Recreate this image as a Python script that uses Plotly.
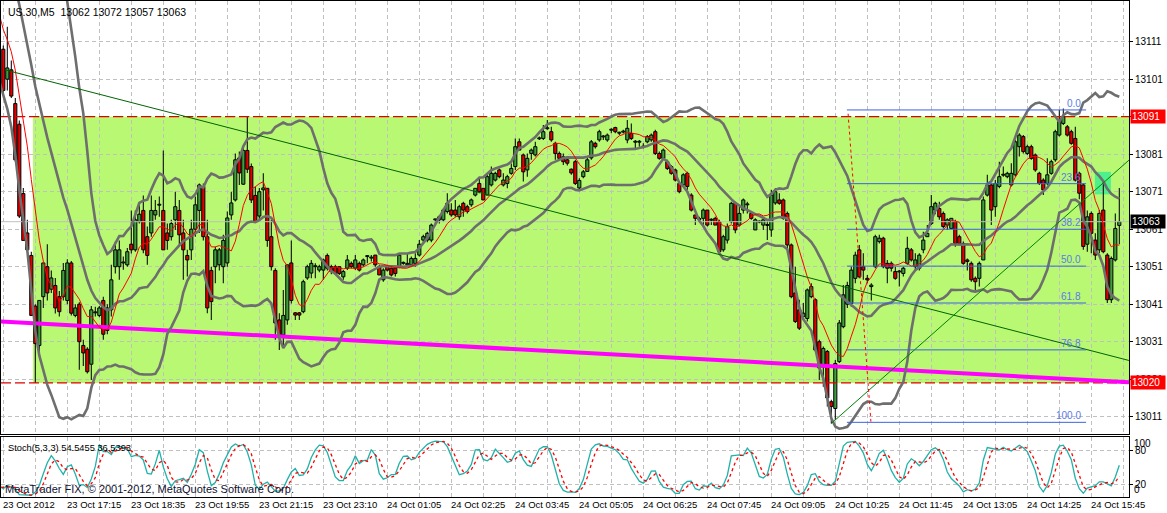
import numpy as np
import pandas as pd
import plotly.graph_objects as go

# ---------------- data (5-minute bars, index 0 = first visible bar) ----------------
bar_open = [
 13109, 13101, 13103.5, 13094.5, 13089, 13070.5, 13060, 13054, 13040.5, 13030,
 13043, 13051, 13045, 13046, 13043, 13043, 13042, 13052, 13038, 13041,
 13030, 13029, 13025, 13038.7, 13038, 13042, 13034, 13039.5, 13051, 13051,
 13052, 13051.5, 13057, 13055.5, 13063, 13066, 13059, 13060, 13064.8, 13067.4,
 13066, 13060, 13059, 13063.5, 13066, 13060, 13054, 13055.5, 13061, 13066,
 13072.4, 13059, 13050, 13051, 13051.5, 13051, 13052, 13064.8, 13068.8, 13080,
 13073, 13082, 13077.7, 13070, 13064.5, 13071.5, 13071.9, 13059, 13050, 13036.8,
 13032.8, 13036.8, 13052, 13038.7, 13038.7, 13039, 13048, 13049.3, 13051, 13050.1,
 13050.1, 13054, 13051, 13051, 13051, 13048.3, 13050.6, 13051.9, 13050.6, 13051.9,
 13051.5, 13053.7, 13053.3, 13054.1, 13051, 13047.5, 13051, 13050.6, 13050.6, 13051,
 13051.9, 13051.5, 13051.5, 13051.9, 13054.1, 13058.1, 13058.1, 13058.1, 13063.5, 13063.5,
 13063.5, 13065.7, 13066.1, 13066.1, 13064.3, 13067.9, 13067, 13067.5, 13070.1, 13073.2,
 13071.9, 13070.1, 13072.8, 13074.1, 13076.8, 13072.8, 13073.2, 13075.9, 13077.7, 13084.3,
 13080.8, 13076.8, 13081.2, 13080.8, 13085.1, 13085.2, 13087.8, 13087, 13083.9, 13081.2,
 13080.3, 13079.5, 13077, 13079, 13072, 13075, 13076.4, 13080, 13083.9, 13084.8,
 13085.6, 13084.8, 13087.4, 13088.1, 13086.6, 13086.9, 13084.8, 13086.5, 13084.2, 13084.2,
 13082.9, 13084.3, 13084.8, 13087, 13081.2, 13079.9, 13079, 13077.7, 13076.8, 13073.2,
 13072.8, 13075.9, 13070.1, 13064.8, 13063.6, 13063.9, 13066.1, 13063.4, 13063.9, 13063,
 13055.5, 13058.1, 13063, 13067.9, 13062.1, 13066.1, 13067.5, 13065.2, 13060.8, 13062.9,
 13062.1, 13062, 13060.8, 13068, 13068.8, 13068.8, 13065.2, 13056.8, 13044, 13039.5,
 13037.7, 13037.2, 13043, 13042.2, 13031, 13024.3, 13028.4, 13015, 13013.2, 13025.7,
 13035, 13041, 13041.2, 13047.9, 13055.5, 13051, 13047.9, 13045.7, 13051, 13057.7,
 13058.6, 13051.9, 13051.9, 13049.7, 13049.6, 13049.2, 13051.9, 13055.5, 13051, 13050.6,
 13055.5, 13059, 13062.5, 13066.1, 13066.5, 13065.2, 13062.1, 13061.2, 13063, 13059,
 13057.2, 13052.8, 13051.9, 13047.9, 13047.9, 13052.8, 13070.1, 13072.8, 13067, 13072.4,
 13075.4, 13075, 13072.8, 13075.5, 13083, 13085.7, 13081.2, 13083, 13080.8, 13075.9,
 13074.1, 13073.2, 13075.9, 13079.5, 13086.1, 13089.2, 13088.3, 13087, 13085.2, 13075.9,
 13072.8, 13057, 13065.2, 13058.1, 13055.5, 13066.1, 13054.1, 13042.2, 13052.8, 13062,
]
bar_high = [
 13110, 13115, 13106, 13096, 13090, 13072, 13063.5, 13055, 13041, 13042,
 13052, 13057, 13050, 13048, 13044.5, 13052, 13053, 13052.5, 13041, 13041.5,
 13031.5, 13029.5, 13040.5, 13040.3, 13040.5, 13043, 13041, 13051.5, 13057.7, 13058,
 13053.7, 13056, 13066, 13066, 13068, 13070, 13061.7, 13070, 13068.8, 13069.7,
 13082, 13062.5, 13063.5, 13071, 13068.8, 13063.5, 13055.5, 13063.5, 13069.7, 13073.2,
 13073.2, 13063.5, 13051, 13056.3, 13056, 13059.5, 13065.7, 13071, 13081.2, 13081.7,
 13083, 13091, 13078.5, 13072.4, 13072, 13075.9, 13071.9, 13063.5, 13050.6, 13038.6,
 13044.8, 13051.5, 13058, 13038.9, 13038.9, 13047.5, 13051.5, 13052.8, 13051.9, 13051.5,
 13053.2, 13054.5, 13051.5, 13051.5, 13051, 13050.1, 13054.1, 13052.4, 13054.1, 13052.4,
 13053.2, 13054.1, 13054.1, 13054.1, 13051.5, 13050.6, 13051.5, 13051, 13051, 13054.6,
 13052.4, 13054.6, 13053.7, 13054.6, 13058.1, 13059.5, 13060.3, 13062.5, 13063.5, 13064.8,
 13066.5, 13070.6, 13067.9, 13068.8, 13067.5, 13068.3, 13067.5, 13069.2, 13071.9, 13075,
 13071.9, 13075.9, 13077.7, 13076.3, 13077.2, 13075.9, 13075.5, 13078.5, 13085.2, 13085.2,
 13081.2, 13081.2, 13082.5, 13084.3, 13085.7, 13088.8, 13090.1, 13088.3, 13084.3, 13081.7,
 13081.2, 13080, 13077.2, 13079.5, 13074.6, 13076.8, 13080.4, 13084.8, 13084.3, 13087.5,
 13086.1, 13086.5, 13087.9, 13088.3, 13087, 13087.5, 13090.1, 13089.2, 13084.8, 13084.8,
 13083.9, 13086.1, 13086.5, 13087.5, 13081.7, 13082.5, 13079.5, 13078.1, 13077.2, 13073.7,
 13075.9, 13076.3, 13070.6, 13064.8, 13064.3, 13066.5, 13066.1, 13063.9, 13064.3, 13063.5,
 13059.5, 13062.5, 13068.3, 13068.3, 13067, 13069.2, 13068.3, 13065.7, 13063.9, 13063.3,
 13063.9, 13063.5, 13071.5, 13071.9, 13070.6, 13069.2, 13065.7, 13057.2, 13051, 13042.2,
 13041.3, 13045.2, 13046.6, 13042.6, 13031.5, 13029.7, 13028.8, 13015.5, 13026.1, 13036.8,
 13046.1, 13047, 13051, 13055, 13056.8, 13054.6, 13048.8, 13046.6, 13059.5, 13059.5,
 13059, 13052.8, 13052.4, 13051, 13050.1, 13051, 13059, 13056, 13054.6, 13054.6,
 13060.3, 13062.1, 13070.1, 13068.3, 13068.3, 13065.7, 13063.9, 13063.9, 13063.5, 13059.5,
 13057.7, 13053.2, 13052.4, 13048.4, 13052.4, 13069.7, 13075.5, 13073.2, 13074.1, 13079,
 13077.7, 13076.3, 13078.6, 13084.8, 13086.6, 13086.1, 13083.5, 13083.5, 13081.2, 13076.3,
 13074.6, 13079.9, 13079.5, 13087.5, 13092.8, 13093.2, 13088.8, 13087.5, 13088.3, 13076.3,
 13073.2, 13066, 13065.7, 13059.9, 13066.1, 13074.1, 13054.6, 13053.7, 13065.2, 13072,
]
bar_low = [
 13097, 13098, 13096, 13079, 13064, 13058, 13055, 13038, 13020, 13028,
 13040, 13042, 13044, 13038.5, 13037.7, 13042, 13041, 13038, 13037.5, 13023.5,
 13024.5, 13022.5, 13020.8, 13037.7, 13037.5, 13031.5, 13033, 13037.7, 13049.2, 13047.5,
 13050.2, 13051, 13054.5, 13055, 13062.5, 13054.6, 13051.5, 13059, 13063.5, 13064.3,
 13055.5, 13055.5, 13058, 13060.8, 13056.3, 13047.5, 13048.4, 13052.8, 13059, 13060,
 13058, 13038.6, 13036.8, 13046.6, 13050, 13046.6, 13051, 13063.5, 13068.4, 13072.8,
 13072.8, 13076, 13068, 13063, 13063.5, 13066, 13056.3, 13050, 13031.5, 13028.8,
 13029.3, 13035.5, 13041.2, 13036.8, 13036.8, 13038.6, 13047.5, 13047.9, 13047.9, 13049.5,
 13047.5, 13050, 13049, 13048.8, 13048.8, 13047.5, 13050.1, 13050.6, 13050.1, 13049.7,
 13051, 13051.9, 13052.4, 13051, 13048.8, 13047, 13049.7, 13048.4, 13048.4, 13050.6,
 13051.5, 13051.5, 13051, 13051, 13053.7, 13057.5, 13057.5, 13057.5, 13062.1, 13062.5,
 13063, 13065.2, 13064.3, 13064.3, 13063.5, 13064.3, 13065.2, 13067, 13069.7, 13070.6,
 13068.8, 13070.1, 13072.4, 13073.7, 13074.6, 13072.4, 13071.9, 13075.5, 13076.8, 13082.1,
 13073.7, 13075, 13079.5, 13080.4, 13084.8, 13084.8, 13087.5, 13084.3, 13079.5, 13079.5,
 13078.1, 13078, 13075.5, 13072.8, 13071.5, 13074.6, 13076.4, 13079.5, 13082.5, 13084.3,
 13084.8, 13084.3, 13086.6, 13086.6, 13086.1, 13086.5, 13083.9, 13084.8, 13082.1, 13083,
 13082.5, 13083.9, 13084.3, 13080.8, 13079.5, 13079.5, 13076.8, 13075.5, 13073.7, 13070.6,
 13072.4, 13071.5, 13065.7, 13062.1, 13063, 13062.1, 13061.7, 13062.1, 13062.1, 13054.6,
 13055, 13057.2, 13062.5, 13059.9, 13061.7, 13065.2, 13065.2, 13063.5, 13060.8, 13062.6,
 13060.8, 13058.1, 13059, 13067.5, 13067.5, 13063.5, 13055.5, 13042.6, 13036, 13034.1,
 13036.8, 13036.4, 13042.6, 13028.4, 13020.8, 13019, 13013.7, 13009.2, 13010.1, 13025.3,
 13034.6, 13040, 13040.3, 13046.6, 13047.9, 13047.5, 13046.6, 13042, 13050.6, 13057.2,
 13050.6, 13046.6, 13049.7, 13047.5, 13045.7, 13048.4, 13051.5, 13052.4, 13050.1, 13050,
 13054.6, 13059, 13062.1, 13065, 13063.5, 13061.2, 13060.8, 13061.2, 13056.3, 13056.8,
 13051.5, 13050, 13047, 13044.8, 13045.7, 13052.8, 13069.7, 13062.1, 13064.3, 13071.9,
 13075, 13074.6, 13072.4, 13075, 13080.4, 13081.2, 13080.8, 13079.5, 13076.3, 13072.8,
 13070.1, 13072.8, 13075.5, 13079, 13085.7, 13088.8, 13085.7, 13083.5, 13073.7, 13069,
 13055.5, 13055, 13054.6, 13052.8, 13054.6, 13054.6, 13041.3, 13041.3, 13052.4, 13057,
]
bar_close = [
 13098, 13104, 13096.5, 13079.5, 13064.5, 13058, 13055.5, 13038, 13030.5, 13042,
 13052, 13044, 13048, 13040, 13039, 13050, 13052, 13038.6, 13040, 13031,
 13028, 13023, 13039.5, 13038.9, 13040, 13033, 13040, 13047.5, 13055.5, 13055.5,
 13052.2, 13055, 13055.5, 13063.5, 13065, 13055.5, 13054, 13066, 13066, 13067.6,
 13055.5, 13058, 13062.5, 13067, 13059.5, 13055.5, 13052.8, 13061, 13067.5, 13072.8,
 13059, 13040, 13041.7, 13055.5, 13055.5, 13058, 13064, 13068, 13079.5, 13076,
 13082, 13077, 13068.8, 13063, 13071, 13072, 13058, 13051, 13036, 13032.4,
 13038, 13051.5, 13042, 13038.1, 13038.1, 13047, 13051, 13051.9, 13051.1, 13051,
 13052.8, 13050.6, 13049.7, 13049.2, 13049.2, 13049.7, 13052.8, 13051, 13052.8, 13050.1,
 13052.8, 13053.8, 13053.4, 13051.5, 13048.8, 13050.1, 13050.1, 13048.8, 13049.2, 13054.1,
 13052, 13051.9, 13053.2, 13053.2, 13057, 13059, 13059.9, 13062.1, 13063.6, 13064.3,
 13066.1, 13067.9, 13064.8, 13064.8, 13067, 13066.1, 13065.7, 13068.8, 13071.9, 13071,
 13068.8, 13075, 13075.9, 13075.9, 13075, 13074.1, 13075, 13077.2, 13083, 13082.1,
 13076.3, 13079.9, 13082.1, 13083, 13085.2, 13087, 13087.9, 13084.8, 13081.2, 13079.9,
 13079, 13078.6, 13076, 13073.2, 13074, 13076.3, 13079.5, 13084.3, 13083, 13087,
 13085.7, 13086.1, 13087.5, 13087, 13086.7, 13087, 13087.9, 13085.2, 13084.3, 13084.3,
 13083, 13085.7, 13086.1, 13081.2, 13079.9, 13082.1, 13077.2, 13075.9, 13074.1, 13071,
 13075.5, 13072.4, 13066.1, 13063.9, 13063.7, 13066.1, 13062.1, 13063.5, 13062.1, 13055,
 13059, 13061.7, 13067.9, 13060.8, 13065.2, 13068.8, 13067.6, 13063.9, 13063.5, 13063,
 13063.5, 13062.1, 13070.1, 13071, 13067.9, 13063.9, 13056.8, 13043, 13036.4, 13034.6,
 13038.6, 13044.8, 13045.7, 13028.8, 13024, 13029.2, 13016, 13013.7, 13025.2, 13036,
 13043.5, 13046, 13050.1, 13054.1, 13048.3, 13050.1, 13047.5, 13046.1, 13059, 13058.6,
 13051, 13050.6, 13050.6, 13047.9, 13049.7, 13050.6, 13055.9, 13052.8, 13052.8, 13054.1,
 13058.1, 13059.9, 13067, 13067.9, 13064.3, 13061.7, 13063.5, 13063.9, 13057.2, 13057.2,
 13051.9, 13052.4, 13047.5, 13047, 13051.9, 13068.8, 13072.8, 13066.1, 13073.2, 13075,
 13075.5, 13075.9, 13075.9, 13084.3, 13086.1, 13081.7, 13083, 13079.9, 13076.8, 13073.2,
 13071.5, 13075.5, 13079, 13087, 13089.7, 13091, 13086.1, 13083.9, 13074.1, 13070.6,
 13056.4, 13064.3, 13059.9, 13054.1, 13065.2, 13055, 13042.2, 13053.2, 13061.2, 13063,
]

# bars before the visible window (needed by the indicators)
pre_close = [13118, 13130, 13142, 13152, 13160, 13162, 13158, 13152, 13146, 13140,
             13136, 13134, 13130, 13126, 13122, 13119, 13116, 13113, 13111, 13109]
pre_high = [13139, 13137, 13134, 13130, 13126, 13123, 13120, 13117, 13114, 13112]
pre_low = [13132, 13130, 13127, 13123, 13119, 13116, 13113, 13110, 13108, 13106]

time_labels = ["23 Oct 2012", "23 Oct 17:15", "23 Oct 18:35", "23 Oct 19:55", "23 Oct 21:15",
               "23 Oct 23:10", "24 Oct 01:05", "24 Oct 02:25", "24 Oct 03:45", "24 Oct 05:05",
               "24 Oct 06:25", "24 Oct 07:45", "24 Oct 09:05", "24 Oct 10:25", "24 Oct 11:45",
               "24 Oct 13:05", "24 Oct 14:25", "24 Oct 15:45"]
label_every = 16
price_ticks = [13011, 13021, 13031, 13041, 13051, 13061, 13071, 13081, 13091, 13101, 13111]

header_text = "US.30,M5\u00a0\u00a013062 13072 13057 13063"
stoch_text = "Stoch(5,3,3) 54.5455 36.5393"
copyright_text = "MetaTrader FIX, \u00a9 2001-2012, MetaQuotes Software Corp."

# chart objects (anchor points in bar index / price)
zone_start, zone_low, zone_high = 7.4, 13020, 13091
hline_prices = [13091, 13020]
bid_price = 13063
price_tags = [("13091", 13091, "#ff0000"), ("13020", 13020, "#ff0000"), ("13063", 13063, "#000000")]
trend1_x, trend1_y = [0.4, 281.4], [13103.5, 13026.0]
trend2_x, trend2_y = [207, 281.4], [13009.2, 13079.4]
magenta_x, magenta_y = [-0.6, 281.4], [13036.4, 13020.2]
fib_anchor_x, fib_anchor_y = [211.2, 216.9], [13091.8, 13009.7]
fib_high, fib_low = 13092.8, 13009.5
fib_levels = [0.0, 23.6, 38.2, 50.0, 61.8, 76.8, 100.0]
fib_span = [210.9, 270.7]
box_x, box_y = [272.9, 276.9], [13070.3, 13076.3]

x_range = [-0.575, 281.425]
y_range = [13006.39, 13121.85]
stoch_range = [-2.9, 105.2]

assert len(bar_open) == len(bar_high) == len(bar_low) == len(bar_close) == 280

# ---------------- indicators ----------------
n = len(bar_close)
bars = np.arange(n)
c_all = pd.Series(pre_close + bar_close, dtype=float)
x_all = np.arange(-len(pre_close), n)
ma = c_all.rolling(8).mean()
mid = c_all.rolling(20).mean()
sd = c_all.rolling(20).std(ddof=0)
upper = mid + 2 * sd
lower = mid - 2 * sd
sel = x_all >= -1

h_s = pd.Series(pre_high + bar_high, dtype=float)
l_s = pd.Series(pre_low + bar_low, dtype=float)
c_s = pd.Series(pre_close[-len(pre_high):] + bar_close, dtype=float)
x_s = np.arange(-len(pre_high), n)
hh = h_s.rolling(5).max()
ll = l_s.rolling(5).min()
stoch_k = 100 * (c_s - ll).rolling(3).sum() / (hh - ll).rolling(3).sum()
stoch_d = stoch_k.rolling(3).mean()

o = np.array(bar_open, float)
h = np.array(bar_high, float)
l = np.array(bar_low, float)
c = np.array(bar_close, float)
bull = c > o
bear = ~bull
body_lo = np.minimum(o, c)
body_h = np.maximum(np.abs(c - o), 0.25)

# ---------------- figure ----------------
FONT = "Liberation Sans, Arial, sans-serif"
fig = go.Figure()

# candle wicks and bodies (bar traces share one layer; drawn in order)
fig.add_trace(go.Bar(x=bars, y=h - l, base=l, width=0.26, marker=dict(color="black", line=dict(width=0)),
                     hoverinfo="skip"))
fig.add_trace(go.Bar(x=bars[bull], y=body_h[bull], base=body_lo[bull], width=0.78,
                     marker=dict(color="#3f9f3f", line=dict(color="black", width=1)), hoverinfo="skip"))
fig.add_trace(go.Bar(x=bars[bear], y=body_h[bear], base=body_lo[bear], width=0.78,
                     marker=dict(color="#e00000", line=dict(color="black", width=1)), hoverinfo="skip"))

# horizontal objects
fig.add_trace(go.Scatter(x=x_range, y=[bid_price, bid_price], mode="lines",
                         line=dict(color="#c0c0c0", width=1), hoverinfo="skip"))
for p in hline_prices:
    fig.add_trace(go.Scatter(x=x_range, y=[p, p], mode="lines",
                             line=dict(color="#e00000", width=1.2, dash="10px,4px"), hoverinfo="skip"))
fig.add_trace(go.Scatter(x=magenta_x, y=magenta_y, mode="lines",
                         line=dict(color="#ff00ff", width=4), hoverinfo="skip"))
for band in (upper, mid, lower):
    fig.add_trace(go.Scatter(x=x_all[sel], y=band[sel], mode="lines",
                             line=dict(color="#6e6e6e", width=2.6), hoverinfo="skip"))
fig.add_trace(go.Scatter(x=x_all[sel], y=ma[sel], mode="lines",
                         line=dict(color="#ff0000", width=1), hoverinfo="skip"))
fig.add_trace(go.Scatter(x=trend1_x, y=trend1_y, mode="lines",
                         line=dict(color="#006400", width=1), hoverinfo="skip"))
fig.add_trace(go.Scatter(x=trend2_x, y=trend2_y, mode="lines",
                         line=dict(color="#008000", width=1), hoverinfo="skip"))

fx, fy = [], []
for lv in fib_levels:
    p = fib_high - lv / 100.0 * (fib_high - fib_low)
    fx += [fib_span[0], fib_span[1], None]
    fy += [p, p, None]
fig.add_trace(go.Scatter(x=fx, y=fy, mode="lines",
                         line=dict(color="#3b63e0", width=1), hoverinfo="skip"))
fig.add_trace(go.Scatter(x=fib_anchor_x, y=fib_anchor_y, mode="lines",
                         line=dict(color="#ff0000", width=1, dash="3px,3px"), hoverinfo="skip"))

fig.add_trace(go.Scatter(x=x_s, y=stoch_k, mode="lines", xaxis="x2", yaxis="y2",
                         line=dict(color="#20b2aa", width=1.3), hoverinfo="skip"))
fig.add_trace(go.Scatter(x=x_s, y=stoch_d, mode="lines", xaxis="x2", yaxis="y2",
                         line=dict(color="#ff0000", width=1.3, dash="3px,3px"), hoverinfo="skip"))

grid = dict(showgrid=True, gridcolor="#c0c0c0", gridwidth=1, griddash="4px,3px")
frame = dict(showline=True, mirror=True, linecolor="black", linewidth=1, zeroline=False)

shapes = [
    dict(type="rect", xref="x", yref="y", x0=zone_start, x1=x_range[1] + 5, y0=zone_low, y1=zone_high,
         fillcolor="#b8f872", line=dict(width=0), layer="below"),
    dict(type="rect", xref="x", yref="y", x0=box_x[0], x1=box_x[1], y0=box_y[0], y1=box_y[1],
         fillcolor="#4ef08c", line=dict(width=0), layer="below"),
]

tag_prices = [t[1] for t in price_tags]
tick_text = ["" if v in tag_prices else str(v) for v in price_ticks]

ann = []
ann.append(dict(text=header_text, xref="paper", yref="paper", x=0.004, y=1, xanchor="left",
                yanchor="top", yshift=-3, showarrow=False, font=dict(family=FONT, size=10.5, color="black")))
ann.append(dict(text=stoch_text, xref="paper", yref="y2 domain", x=0.004, y=1, xanchor="left",
                yanchor="top", yshift=-4, showarrow=False, font=dict(family=FONT, size=9.3, color="black")))
ann.append(dict(text=copyright_text, xref="paper", yref="y2 domain", x=0.002, y=0, xanchor="left",
                yanchor="bottom", yshift=0, showarrow=False,
                font=dict(family=FONT, size=11, color="#101030")))
for i, lab in enumerate(time_labels):
    ann.append(dict(text=lab, xref="x", yref="paper", x=i * label_every, y=0, xanchor="left",
                    yanchor="top", xshift=-2, yshift=0, showarrow=False,
                    font=dict(family=FONT, size=9.5, color="black")))
for lv in fib_levels:
    p = fib_high - lv / 100.0 * (fib_high - fib_low)
    ann.append(dict(text=f"{lv:.1f}", xref="x", yref="y", x=fib_span[1] - 0.8, y=p, xanchor="right",
                    yanchor="bottom", yshift=-1, showarrow=False,
                    font=dict(family=FONT, size=10, color="#5b7be8")))
for txt, p, col in price_tags:
    ann.append(dict(text=txt, xref="paper", yref="y", x=1, y=p, xanchor="left", yanchor="middle",
                    xshift=1, showarrow=False, bgcolor=col, width=32, height=11, align="left",
                    borderpad=1, font=dict(family=FONT, size=10, color="white")))
for txt, v, sh in (("100", 100, -4), ("0", 0, 6)):
    ann.append(dict(text=txt, xref="paper", yref="y2", x=1, y=v, xanchor="left", yanchor="middle",
                    xshift=3, yshift=sh, showarrow=False, font=dict(family=FONT, size=10, color="black")))

fig.update_layout(
    width=1167, height=513, margin=dict(l=1, r=38, t=1, b=16, autoexpand=False),
    paper_bgcolor="white", plot_bgcolor="white", showlegend=False, barmode="overlay",
    font=dict(family=FONT, size=10, color="black"),
    xaxis=dict(domain=[0, 1], anchor="y", range=x_range, tick0=0, dtick=8, showticklabels=False,
               ticks="", **grid, **frame),
    xaxis2=dict(domain=[0, 1], anchor="y2", matches="x", range=x_range, tick0=0, dtick=8,
                showticklabels=False, ticks="", **grid, **frame),
    yaxis=dict(domain=[0.12702, 1], anchor="x", range=y_range, side="right",
               tickvals=price_ticks, ticktext=tick_text,
               ticks="outside", ticklen=3, tickcolor="black", tickfont=dict(family=FONT, size=10),
               **grid, **frame),
    yaxis2=dict(domain=[0, 0.12097], anchor="x2", range=stoch_range, side="right", tickvals=[20, 80],
                ticks="outside", ticklen=3, tickcolor="black", tickfont=dict(family=FONT, size=10),
                **grid, **frame),
    shapes=shapes, annotations=ann,
)

fig.write_html("out.html", config={"displayModeBar": False, "staticPlot": True},
               post_script="document.body.style.margin='0';document.body.style.padding='0';"
                           "document.body.style.overflow='hidden';")
